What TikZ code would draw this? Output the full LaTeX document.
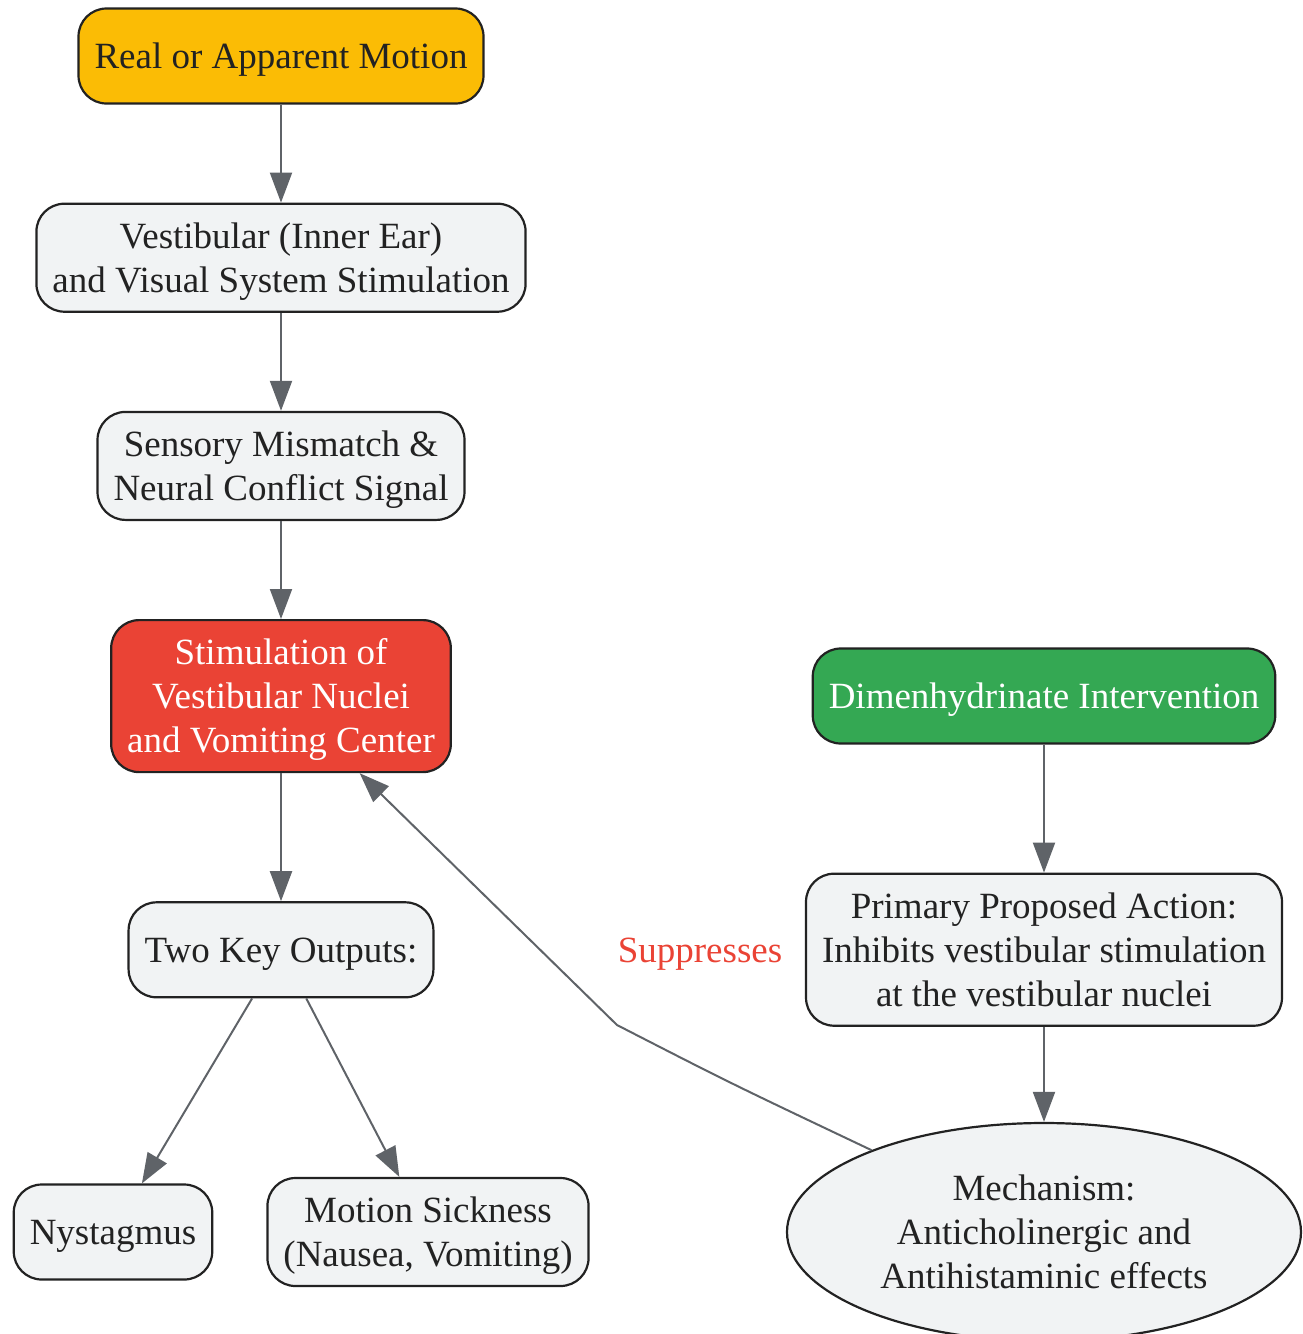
\documentclass[tikz,border=0pt]{standalone}
\usepackage{fontspec}
\setmainfont{Liberation Serif}
\usepackage{tikz}
\usetikzlibrary{positioning,shapes.geometric,arrows.meta}

\definecolor{boxgray}{HTML}{F1F3F4}
\definecolor{edgegray}{HTML}{5F6368}
\definecolor{bordergray}{HTML}{222222}
\definecolor{motionyellow}{HTML}{FBBC05}
\definecolor{stimred}{HTML}{EA4335}
\definecolor{drugreen}{HTML}{34A853}

\begin{document}
\begin{tikzpicture}[x=1pt,y=-1pt,node distance=98pt,
    every node/.style={font=\fontsize{37}{44}\selectfont,text=bordergray,text height=33pt,text depth=8pt},
    twolines/.style={text height=77pt,minimum height=108pt},
    threelines/.style={text height=121pt,minimum height=152pt},
    box/.style={draw=bordergray,line width=2.2pt,fill=boxgray,rounded corners=28pt,align=center,
                inner xsep=16pt,inner ysep=0pt,minimum height=95pt},
    link/.style={draw=edgegray,line width=2pt,-{Triangle[length=30pt,width=22pt,fill=edgegray]}}]
		  \useasboundingbox (0,0) rectangle (1302,1334);

		  \node[box,fill=motionyellow]                          (motion)   at (281,56)   {Real or Apparent Motion};
		  \node[box,twolines,below=of motion]                   (vestib)   {Vestibular (Inner Ear)\\and Visual System Stimulation};
		  \node[box,twolines,below=of vestib]                   (mismatch) {Sensory Mismatch \&\\Neural Conflict Signal};
		  \node[box,threelines,below=of mismatch,fill=stimred,text=white] (stim) {Stimulation of\\Vestibular Nuclei\\and Vomiting Center};
		  \node[box,below=of stim,yshift=-30pt]                 (outputs)  {Two Key Outputs:};
		  \node[box]                                            (nystag)   at (113,1232) {Nystagmus};
		  \node[box,twolines]                                   (sickness) at (428,1232) {Motion Sickness\\(Nausea, Vomiting)};

		  \node[box,fill=drugreen,text=white]                   (dimen)    at (1044,696) {Dimenhydrinate Intervention};
		  \node[box,threelines,below=of dimen,yshift=-30pt]     (action)   {Primary Proposed Action:\\Inhibits vestibular stimulation\\at the vestibular nuclei};
		  \node[ellipse,threelines,draw=bordergray,line width=2.2pt,fill=boxgray,align=center,inner sep=0pt,
		        minimum width=514pt,minimum height=218pt]       (mech)     at (1044,1232) {Mechanism:\\Anticholinergic and\\Antihistaminic effects};

		  \node[text=stimred]                                   (supp)     at (700,950)  {Suppresses};
		  \coordinate (kink) at (617,1025);

		  \path (motion)   edge[link] (vestib)
		        (vestib)   edge[link] (mismatch)
		        (mismatch) edge[link] (stim)
		        (stim)     edge[link] (outputs)
		        (outputs)  edge[link] (nystag)
		        (outputs)  edge[link] (sickness)
		        (dimen)    edge[link] (action)
		        (action)   edge[link] (mech);
		  \draw[link] (mech) .. controls (730,1083) .. (kink) -- (stim);

	  \end{tikzpicture}
\end{document}
